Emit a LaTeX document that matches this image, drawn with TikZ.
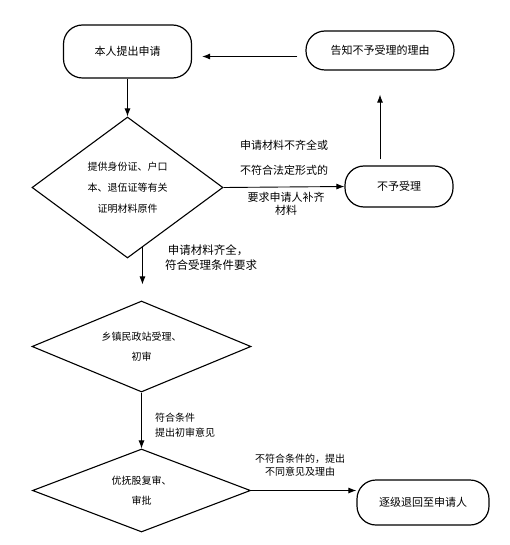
\documentclass[tikz,border=0pt]{standalone}
\usepackage{fontspec}
\setmainfont{Noto Sans CJK SC}
\usetikzlibrary{shapes.geometric,arrows.meta}

\tikzstyle{roundNode} = [rectangle, rounded corners=19pt, text centered, draw=black, line width=1.2pt, font=\fontsize{11}{13}\selectfont]
\tikzstyle{decNode} = [diamond, inner sep=0pt, align=center, draw=black, line width=1.1pt, font=\fontsize{10}{21}\selectfont]
\tikzstyle{labelNode} = [inner sep=0pt, font=\fontsize{10}{13}\selectfont]
\tikzstyle{arrow} = [line width=0.9pt,->,>={Latex[length=8pt,width=6pt]}]

\begin{document}
\begin{tikzpicture}[x=1pt,y=-1pt]
    \useasboundingbox (0,0) rectangle (510,545);

    \node (apply)[roundNode, minimum width=128pt, minimum height=53pt] at (127.5,51.5) {本人提出申请};
    \node (notice)[roundNode, minimum width=148pt, minimum height=39pt] at (380,50.5) {告知不予受理的理由};
    \node (check)[decNode, aspect=1.35, minimum width=191pt, minimum height=141pt] at (127.5,187.5) {提供身份证、户口\\本、退伍证等有关\\证明材料原件};
    \node (reject)[roundNode, minimum width=108pt, minimum height=41pt] at (399,186.5) {不予受理};
    \node (accept)[decNode, aspect=2.4, minimum width=219pt, minimum height=91pt, font=\fontsize{10}{20}\selectfont] at (141.5,346.5) {乡镇民政站受理、\\初审};
    \node (approve)[decNode, aspect=2.6, minimum width=218pt, minimum height=83pt, font=\fontsize{10}{20}\selectfont] at (141.5,490.5) {优抚股复审、\\审批};
    \node (back)[roundNode, minimum width=132pt, minimum height=45pt] at (423,502.5) {逐级退回至申请人};

    % labels on the connectors
    \node (lackUp)[labelNode, align=center, font=\fontsize{11}{25}\selectfont] at (284,157.5) {申请材料不齐全或\\不符合法定形式的};
    \node (lackDown)[labelNode, align=center, font=\fontsize{11}{13}\selectfont] at (286,203.5) {要求申请人补齐\\材料};
    \node (okLbl)[labelNode, align=left, anchor=west, font=\fontsize{11.5}{15}\selectfont] at (165,257.5) {\ 申请材料齐全，\\符合受理条件要求};
    \node (passLbl)[labelNode, align=left, anchor=west, font=\fontsize{10}{15}\selectfont] at (155,425.5) {符合条件\\提出初审意见};
    \node (failLbl)[labelNode, align=center] at (300,465) {不符合条件的，提出\\不同意见及理由};

    \draw [arrow, shorten <=8pt, shorten >=10pt] ([yshift=-6pt]notice.west) -- ([yshift=-5pt]apply.east);
    \draw [arrow] (apply.south) -- (check.north);
    \draw [arrow] (check.east) -- (reject.west);
    \draw [arrow, shorten <=6pt, shorten >=24pt] (reject.north -| notice.south) -- (notice.south);
    \draw [arrow, shorten >=16pt] (check.-76) -- (check.-76 |- accept.north);
    \draw [arrow] (accept.south) -- (approve.north);
    \draw [arrow] (approve.east) -- (approve.east -| back.west);

\end{tikzpicture}
\end{document}
